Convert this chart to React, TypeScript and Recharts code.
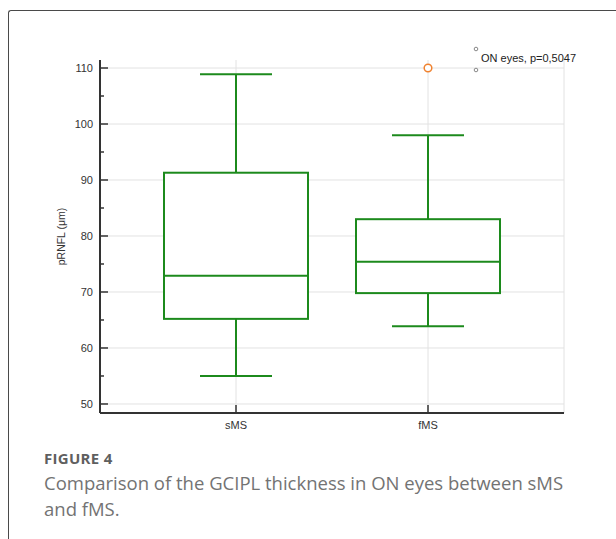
import React from 'react';
import {
  ComposedChart,
  Bar,
  Scatter,
  XAxis,
  YAxis,
  CartesianGrid,
  Legend
} from 'recharts';

// values
const groups = ['sMS', 'fMS'];
const whiskerLow = [55, 63.9];
const q1 = [65.2, 69.8];
const median = [72.9, 75.4];
const q3 = [91.3, 83.0];
const whiskerHigh = [108.9, 98.0];
const outliers: (number | null)[] = [null, 110];

const majorTicks = [50, 60, 70, 80, 90, 100, 110];
const allTicks = [50, 55, 60, 65, 70, 75, 80, 85, 90, 95, 100, 105, 110];

const legendText = 'ON eyes, p=0,5047';
const yLabel = 'pRNFL (μm)';
const captionLines = ['Comparison of the GCIPL thickness in ON eyes between sMS', 'and fMS.'];

const GREEN = '#1c8a1c';
const AXIS = '#333333';

const data = groups.map((name, i) => ({
  name,
  lo: whiskerLow[i],
  q1: q1[i],
  med: median[i],
  q3: q3[i],
  hi: whiskerHigh[i],
  outlier: outliers[i]
}));

const BoxShape = (props: any) => {
  const { x, y, width, height, payload } = props;
  if (!payload) return null;
  const top = Math.min(y, y + height);
  const bottom = Math.max(y, y + height);
  const { lo, hi } = payload;
  const pix = (v: number) => top + ((hi - v) / (hi - lo)) * (bottom - top);
  const cx = x + width / 2;
  const capHalf = width / 4;
  return (
    <g stroke={GREEN} strokeWidth={2} fill="none">
      <line x1={cx} x2={cx} y1={pix(hi)} y2={pix(payload.q3)} />
      <line x1={cx} x2={cx} y1={pix(payload.q1)} y2={pix(lo)} />
      <line x1={cx - capHalf} x2={cx + capHalf} y1={pix(hi)} y2={pix(hi)} />
      <line x1={cx - capHalf} x2={cx + capHalf} y1={pix(lo)} y2={pix(lo)} />
      <rect
        x={x}
        y={pix(payload.q3)}
        width={width}
        height={pix(payload.q1) - pix(payload.q3)}
        fill="#ffffff"
      />
      <line x1={x} x2={x + width} y1={pix(payload.med)} y2={pix(payload.med)} />
    </g>
  );
};

const OutlierShape = (props: any) => {
  const { cx, cy, payload } = props;
  if (!payload || payload.outlier == null || cy == null || isNaN(cy)) return <g />;
  return <circle cx={cx} cy={cy} r={3.8} fill="#ffffff" stroke="#f0822f" strokeWidth={1.5} />;
};

const YTick = (props: any) => {
  const { x, y, payload } = props;
  const major = majorTicks.includes(payload.value);
  return (
    <g>
      <line x1={x} x2={x + (major ? 8 : 4)} y1={y} y2={y} stroke={AXIS} strokeWidth={1.5} />
      {major && (
        <text x={x - 7} y={y} dy={4} textAnchor="end" fontSize={11} fill={AXIS}>
          {payload.value}
        </text>
      )}
    </g>
  );
};

const XTick = (props: any) => {
  const { x, y, payload } = props;
  return (
    <g>
      <line x1={x} x2={x} y1={y} y2={y - 8} stroke={AXIS} strokeWidth={1.5} />
      <text x={x} y={y + 16} textAnchor="middle" fontSize={11} fill={AXIS}>
        {payload.value}
      </text>
    </g>
  );
};

const LegendBox = () => (
  <svg width={130} height={38} style={{ display: 'block' }}>
    <circle cx={6} cy={9} r={1.8} fill="#fff" stroke="#888" strokeWidth={1} />
    <circle cx={6} cy={30} r={1.8} fill="#fff" stroke="#888" strokeWidth={1} />
    <text x={11} y={22} fontSize={11} fill="#222">{legendText}</text>
  </svg>
);

const App: React.FC = () => {
  return (
    <div
      style={{
        position: 'fixed',
        left: 0,
        top: 0,
        width: 616,
        height: 539,
        overflow: 'hidden',
        background: '#fff',
        fontFamily: 'Arial, "Liberation Sans", sans-serif'
      }}
    >
      <div
        style={{
          position: 'absolute',
          left: 8,
          top: 10,
          width: 700,
          height: 700,
          borderTop: '1px solid #4a4a4a',
          borderLeft: '1px solid #4a4a4a',
          borderTopLeftRadius: 3
        }}
      />
      <div style={{ position: 'absolute', left: 0, top: 0 }}>
        <ComposedChart
          width={616}
          height={440}
          data={data}
          margin={{ top: 60, right: 52, left: 40, bottom: 7 }}
        >
          <CartesianGrid
            stroke="#e2e2e2"
            strokeWidth={1}
            horizontalValues={majorTicks}
          />
          <XAxis
            dataKey="name"
            type="category"
            padding={{ left: 40, right: 40 }}
            height={20}
            tickSize={0}
            tickMargin={0}
            tick={<XTick />}
            axisLine={{ stroke: AXIS, strokeWidth: 2 }}
            tickLine={false}
          />
          <YAxis
            type="number"
            domain={[48.39, 111.43]}
            allowDataOverflow
            ticks={allTicks}
            interval={0}
            width={60}
            tickSize={0}
            tickMargin={0}
            tick={<YTick />}
            tickLine={false}
            axisLine={{ stroke: AXIS, strokeWidth: 2 }}
            label={(p: any) => {
              const vb = p.viewBox || { x: 40, y: 60, height: 353 };
              const lx = vb.x + 21;
              const ly = vb.y + vb.height / 2;
              return (
                <text
                  x={lx}
                  y={ly}
                  transform={`rotate(-90, ${lx}, ${ly})`}
                  textAnchor="middle"
                  dominantBaseline="central"
                  fontSize={10.5}
                  fill={AXIS}
                >
                  {yLabel}
                </text>
              );
            }}
          />
          <Legend
            layout="horizontal"
            verticalAlign="middle"
            align="center"
            content={<LegendBox />}
            wrapperStyle={{ position: 'absolute', left: 470, top: 40, width: 130, height: 38 }}
          />
          <Bar
            dataKey={(d: any) => [d.lo, d.hi]}
            barSize={144}
            shape={<BoxShape />}
            isAnimationActive={false}
            legendType="none"
          />
          <Scatter
            dataKey="outlier"
            shape={<OutlierShape />}
            isAnimationActive={false}
            legendType="none"
          />
        </ComposedChart>
      </div>
      <div
        style={{
          position: 'absolute',
          left: 44,
          top: 451,
          fontSize: 15,
          fontWeight: 700,
          lineHeight: '14px',
          letterSpacing: 0.3,
          color: '#5f5f5f',
          fontFamily: '"Open Sans", Lato, sans-serif'
        }}
      >
        FIGURE 4
      </div>
      {captionLines.map((line, i) => (
        <div
          key={i}
          style={{
            position: 'absolute',
            left: 44,
            top: 473 + i * 26,
            fontSize: 18.5,
            lineHeight: '20px',
            color: '#737373',
            whiteSpace: 'nowrap',
            fontFamily: '"Open Sans", Lato, sans-serif'
          }}
        >
          {line}
        </div>
      ))}
    </div>
  );
};

export default App;
